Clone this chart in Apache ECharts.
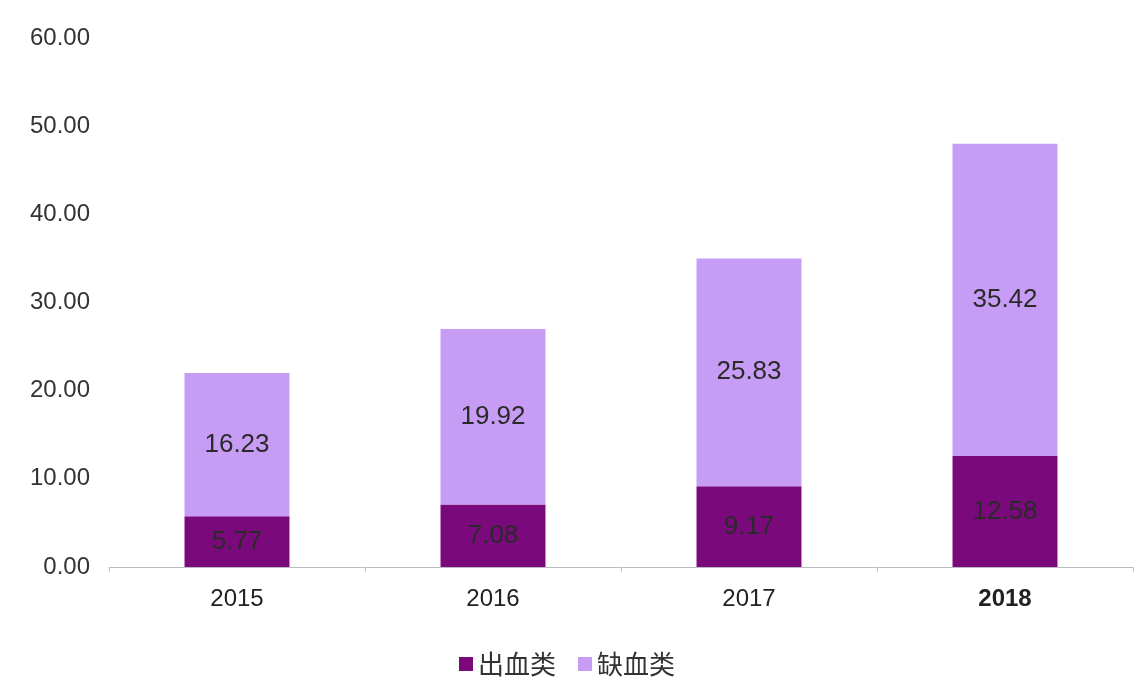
<!DOCTYPE html><html><head><meta charset="utf-8"><script src="https://cdn.jsdelivr.net/npm/echarts@6/dist/echarts.min.js"></script></head><body style="margin:0;background:#fff"><div id="c" style="width:1134px;height:698px"></div><script>
const categories=['2015','2016','2017','2018'];
const hemorrhagic=[5.77,7.08,9.17,12.58];
const ischemic=[16.23,19.92,25.83,35.42];
const chart=echarts.init(document.getElementById('c'));
const lbl={show:true,position:'inside',color:'#2a2a2a',fontSize:26,fontFamily:'Liberation Sans, Arial',formatter:p=>p.value.toFixed(2)};
chart.setOption({
animation:false,
grid:{left:109,right:1,top:38,bottom:131},
legend:{bottom:16,left:'center',itemWidth:14,itemHeight:14,itemGap:22,icon:'rect',textStyle:{fontSize:26,color:'#333',fontFamily:'Noto Sans CJK SC'},data:['出血类','缺血类']},
xAxis:{type:'category',data:categories,axisTick:{show:true,lineStyle:{color:'#ccc'}},axisLine:{lineStyle:{color:'#bbb'}},
axisLabel:{fontSize:24,color:'#222',margin:20,fontFamily:'Liberation Sans, Arial',formatter:v=>v==='2018'?'{b|'+v+'}':v,rich:{b:{fontWeight:'bold',fontSize:24,color:'#222',fontFamily:'Liberation Sans, Arial'}}}},
yAxis:{type:'value',min:0,max:60,interval:10,splitLine:{show:false},axisLine:{show:false},axisTick:{show:false},
axisLabel:{fontSize:24,color:'#333',margin:19,fontFamily:'Liberation Sans, Arial',formatter:v=>v.toFixed(2)}},
series:[
{name:'出血类',type:'bar',stack:'a',barWidth:'41%',data:hemorrhagic,itemStyle:{color:'#7a0a7c'},label:lbl},
{name:'缺血类',type:'bar',stack:'a',data:ischemic,itemStyle:{color:'#c69cf4'},label:lbl}
]});
</script></body></html>
